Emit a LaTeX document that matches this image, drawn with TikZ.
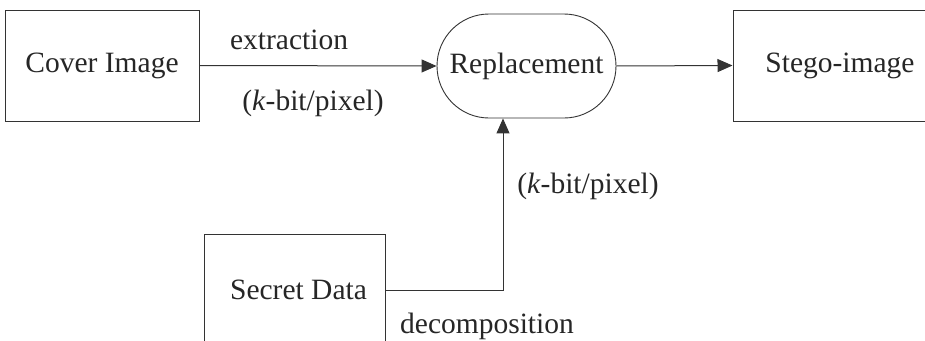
\documentclass[tikz,border=0pt]{standalone}
\usepackage{fontspec}
\setmainfont{Liberation Serif}
\usetikzlibrary{shapes.misc,arrows.meta}
\begin{document}
\begin{tikzpicture}[x=1pt,y=-1pt,
  every node/.style={font=\fontsize{29.5}{33}\selectfont, text=black!85},
  blockbox/.style={draw=black!80, line width=1pt, inner sep=0pt},
  roundbox/.style={draw=black!80, line width=0.9pt, rounded rectangle, inner sep=0pt},
  flow/.style={draw=black!80, line width=1pt, -{Triangle[length=15pt,width=13pt]}},
  lbl/.style={anchor=base}]
  \useasboundingbox (0,0) rectangle (925,340);
  % main blocks
  \node[blockbox, minimum width=194pt, minimum height=111pt] (cover) at (102,65.5) {Cover Image};
  \node[roundbox, minimum width=179pt, minimum height=104pt] (rep) at (526.5,66) {Replacement};
  \node[blockbox, minimum width=214pt, minimum height=111pt] (stego) at (840,65.5) {Stego-image};
  \node[blockbox, minimum width=181pt, minimum height=112pt] (secret) at (294.5,290) {};
  \node (secrettext) at (298.5,290) {Secret Data};
  % connectors
  \draw[flow] (cover.east) -- (rep.west);
  \draw[flow] (rep.east) -- (stego.west);
  \coordinate (bend) at (503,290);
  \draw[flow] (secret.east) -- (bend) -- (bend |- rep.south);
  % labels
  \node[lbl] (l1) at (289,49) {extraction};
  \node[lbl] (l2) at (313,110) {(\textit{k}-bit/pixel)};
  \node[lbl] (l3) at (588,193) {(\textit{k}-bit/pixel)};
  \node[lbl] (l4) at (487,333) {decomposition};
\end{tikzpicture}
\end{document}
